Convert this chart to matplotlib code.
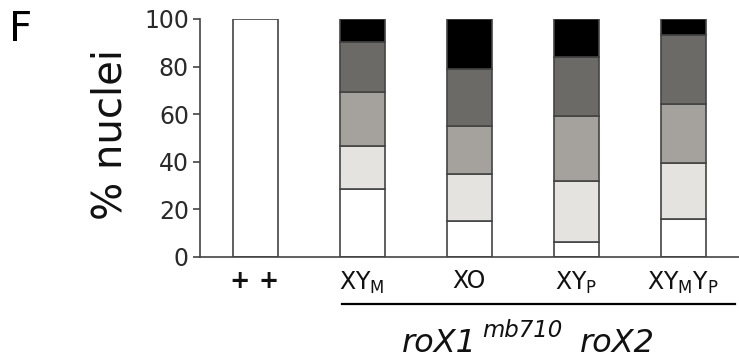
import matplotlib.pyplot as plt
from matplotlib.lines import Line2D
import numpy as np

plt.rcParams['font.family'] = ['DejaVu Sans']
plt.rcParams['mathtext.default'] = 'regular'

genotypes = ['+ +', 'XY$_{M}$', 'XO', 'XY$_{P}$', 'XY$_{M}$Y$_{P}$']

# stacked classes, bottom to top (% nuclei)
white = [100, 28.7, 15.3, 6.2, 15.8]
light = [0, 17.9, 19.6, 25.7, 23.6]
mid = [0, 22.7, 20.3, 27.5, 25.0]
dark = [0, 20.9, 23.7, 24.8, 28.7]
black = [0, 9.8, 21.1, 15.8, 6.9]

layers = [white, light, mid, dark, black]
colors = ['white', '#e4e3e0', '#a5a29d', '#6b6a66', 'black']

fig = plt.figure(figsize=(7.39, 3.6), dpi=100)
ax = fig.add_axes([200/739, 103/360, 539/739, 238/360])

x = np.arange(len(genotypes))
bottom = np.zeros(len(genotypes))
for vals, c in zip(layers, colors):
    vals = np.array(vals, dtype=float)
    keep = vals > 0
    ax.bar(x[keep], vals[keep], bottom=bottom[keep], width=0.42,
           color=c, edgecolor='#444444', linewidth=1.2)
    bottom += vals

ax.set_ylim(0, 100)
ax.set_xlim(-0.514, 4.52)
ax.set_yticks([0, 20, 40, 60, 80, 100])
ax.set_xticks(x)
ax.set_xticklabels(genotypes)
ax.tick_params(axis='y', length=5, width=1.2, color='#444444', labelsize=17,
               labelcolor='#2a2a2a', pad=3)
ax.tick_params(axis='x', length=0, labelsize=17, labelcolor='#111111', pad=9)
plus = ax.get_xticklabels()[0]
plus.set_fontsize(17.5)
plus.set_fontweight('bold')
for s in ['top', 'right']:
    ax.spines[s].set_visible(False)
for s in ['left', 'bottom']:
    ax.spines[s].set_color('#444444')
    ax.spines[s].set_linewidth(1.2)

fig.text(111/739, 1 - 135/360, '% nuclei', rotation=90, ha='center',
         va='center', fontsize=29, color='#111111')
fig.text(21/739, 1 - 30/360, 'F', ha='center', va='center', fontsize=29)
fig.add_artist(Line2D([342/739, 735/739], [1 - 304/360] * 2, lw=1.6,
                      color='black'))

# roX1^mb710 roX2, all italic
base = 1 - 352/360
fig.text(402/739, base, 'roX1', style='italic', fontsize=23,
         ha='left', va='baseline', color='#111111')
fig.text(482/739, 1 - 337/360, 'mb710', style='italic', fontsize=16.5,
         ha='left', va='baseline', color='#111111')
fig.text(580/739, base, 'roX2', style='italic', fontsize=23,
         ha='left', va='baseline', color='#111111')

fig.savefig('out.png', dpi=100)
